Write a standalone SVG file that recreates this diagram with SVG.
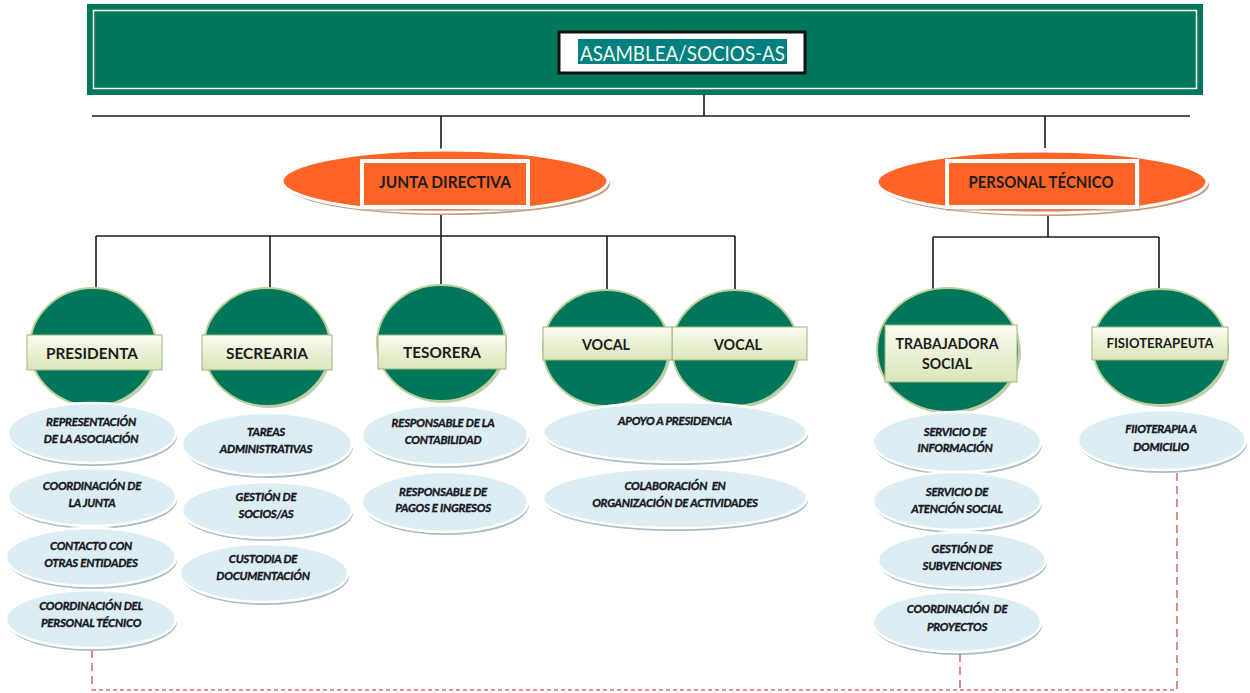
<svg xmlns="http://www.w3.org/2000/svg" width="1250" height="693" viewBox="0 0 1250 693">
<defs>
<linearGradient id="band" x1="0" y1="0" x2="0" y2="1">
<stop offset="0" stop-color="#FBFCF2"/>
<stop offset="1" stop-color="#D9E6B8"/>
</linearGradient>
<style>
.ln{stroke:#1a1a1a;stroke-width:1.6;fill:none}
.dash{stroke:#DB6E6E;stroke-width:1.6;fill:none;stroke-dasharray:8 5}
.dashh{stroke:#DB6E6E;stroke-width:1.6;fill:none;stroke-dasharray:4 3}
.circ{fill:#00765A;stroke:#BBD09A;stroke-width:2}
.csh{fill:#4C6E40;opacity:.35}
.band{fill:url(#band);stroke:#9DB67C;stroke-width:1}
.hd{font-family:Lato,"Liberation Sans",sans-serif;font-weight:bold;fill:#1c1c1c;text-anchor:middle}
.el{fill:#DCEDF3;stroke:#FFFFFF;stroke-width:2.5}
.esh{fill:#8EA6AD;opacity:.75}
.et{font-family:Lato,"Liberation Sans",sans-serif;font-weight:bold;font-style:italic;font-size:11.5px;letter-spacing:-0.25px;fill:#161622;stroke:#161622;stroke-width:0.35px;text-anchor:middle}
.oe{fill:#FF6427;stroke:#FFFFFF;stroke-width:3}
.osh{fill:#C59A78}
.orr{fill:#FF6427;stroke:#FFFFFF;stroke-width:4}
</style>
</defs>

<g id="connectors">
<line class="ln" x1="704" y1="88" x2="704" y2="116"/>
<line class="ln" x1="92" y1="116" x2="1190" y2="116"/>
<line class="ln" x1="441" y1="116" x2="441" y2="150"/>
<line class="ln" x1="1045" y1="116" x2="1045" y2="148"/>
<line class="ln" x1="441" y1="211" x2="441" y2="236"/>
<line class="ln" x1="96" y1="236" x2="735" y2="236"/>
<line class="ln" x1="96" y1="236" x2="96" y2="292"/>
<line class="ln" x1="270" y1="236" x2="270" y2="292"/>
<line class="ln" x1="441" y1="236" x2="441" y2="288"/>
<line class="ln" x1="607" y1="236" x2="607" y2="292"/>
<line class="ln" x1="735" y1="236" x2="735" y2="292"/>
<line class="ln" x1="1048" y1="214" x2="1048" y2="237"/>
<line class="ln" x1="933" y1="237" x2="1159" y2="237"/>
<line class="ln" x1="933" y1="237" x2="933" y2="290"/>
<line class="ln" x1="1159" y1="237" x2="1159" y2="290"/>
<line class="dash" x1="92" y1="650" x2="92" y2="690"/>
<line class="dash" x1="960" y1="654" x2="960" y2="690"/>
<line class="dash" x1="1177" y1="473" x2="1177" y2="690"/>
<line class="dashh" x1="92" y1="690" x2="1177" y2="690"/>
</g>

<g id="asamblea">
<rect x="87" y="4" width="1116" height="91" fill="#00765A"/>
<rect x="93.5" y="10.5" width="1103" height="78" fill="none" stroke="#FFFFFF" stroke-width="1.5"/>
<rect x="559" y="32" width="246" height="41" fill="#FFFFFF" stroke="#111111" stroke-width="3"/>
<rect x="578" y="39" width="209" height="25" fill="#008080"/>
<text x="682.5" y="61" class="hd" font-size="21" style="fill:#F4F7EC;font-weight:normal" textLength="205" lengthAdjust="spacingAndGlyphs">ASAMBLEA/SOCIOS-AS</text>
</g>

<g id="junta-directiva">
<ellipse cx="447" cy="184" rx="163" ry="31" class="osh"/>
<ellipse cx="445" cy="181" rx="163" ry="31" class="oe"/>
<rect x="361" y="163" width="169" height="48" fill="#B8A090" opacity=".6"/>
<rect x="362" y="161" width="166" height="46" class="orr"/>
<text x="445" y="188" class="hd" font-size="17" textLength="132" lengthAdjust="spacingAndGlyphs">JUNTA DIRECTIVA</text>
</g>

<g id="personal-tecnico">
<ellipse cx="1044" cy="185" rx="165" ry="31" class="osh"/>
<ellipse cx="1042" cy="182" rx="165" ry="31" class="oe"/>
<rect x="946" y="163" width="194" height="48" fill="#B8A090" opacity=".6"/>
<rect x="947" y="161" width="190" height="46" class="orr"/>
<text x="1041" y="188" class="hd" font-size="17" textLength="145" lengthAdjust="spacingAndGlyphs">PERSONAL TÉCNICO</text>
</g>

<g id="presidenta">
<ellipse cx="95" cy="349" rx="63" ry="59" class="csh"/>
<ellipse cx="93" cy="347" rx="63" ry="59" class="circ"/>
<rect x="27" y="335" width="135" height="35" class="band"/>
<text x="92" y="359" class="hd" font-size="16" textLength="92" lengthAdjust="spacingAndGlyphs">PRESIDENTA</text>
</g>

<g id="secretaria">
<ellipse cx="269" cy="349" rx="63" ry="59" class="csh"/>
<ellipse cx="267" cy="347" rx="63" ry="59" class="circ"/>
<rect x="202" y="335" width="130" height="35" class="band"/>
<text x="267" y="359" class="hd" font-size="16" textLength="82" lengthAdjust="spacingAndGlyphs">SECREARIA</text>
</g>

<g id="tesorera">
<ellipse cx="443" cy="345" rx="64" ry="58" class="csh"/>
<ellipse cx="441" cy="343" rx="64" ry="58" class="circ"/>
<rect x="378" y="335" width="128" height="34" class="band"/>
<text x="442" y="358" class="hd" font-size="16" textLength="78" lengthAdjust="spacingAndGlyphs">TESORERA</text>
</g>

<g id="vocal-1">
<ellipse cx="608" cy="350" rx="63" ry="58" class="csh"/>
<ellipse cx="606" cy="348" rx="63" ry="58" class="circ"/>
</g>

<g id="vocal-2">
<ellipse cx="737" cy="350" rx="63" ry="58" class="csh"/>
<ellipse cx="735" cy="348" rx="63" ry="58" class="circ"/>
<rect x="672" y="327" width="135" height="33" class="band"/>
<text x="738" y="350" class="hd" font-size="16" textLength="48" lengthAdjust="spacingAndGlyphs">VOCAL</text>
</g>

<g id="vocal-1-label">
<rect x="543" y="327" width="129" height="33" class="band"/>
<text x="606" y="350" class="hd" font-size="16" textLength="48" lengthAdjust="spacingAndGlyphs">VOCAL</text>
</g>

<g id="trabajadora-social">
<ellipse cx="950" cy="352" rx="71" ry="62" class="csh"/>
<ellipse cx="948" cy="350" rx="71" ry="62" class="circ"/>
<rect x="885" y="325" width="132" height="57" class="band"/>
<text x="947" y="349" class="hd" font-size="15" textLength="103" lengthAdjust="spacingAndGlyphs">TRABAJADORA</text>
<text x="947" y="369" class="hd" font-size="15" textLength="50" lengthAdjust="spacingAndGlyphs">SOCIAL</text>
</g>

<g id="fisioterapeuta">
<ellipse cx="1162" cy="349" rx="67" ry="58" class="csh"/>
<ellipse cx="1160" cy="347" rx="67" ry="58" class="circ"/>
<rect x="1092" y="327" width="136" height="33" class="band"/>
<text x="1160" y="348" class="hd" font-size="13" textLength="107" lengthAdjust="spacingAndGlyphs">FISIOTERAPEUTA</text>
</g>

<g id="presidenta-tareas">
<ellipse cx="93" cy="436" rx="84" ry="30" class="esh"/>
<ellipse cx="92" cy="433" rx="84" ry="30" class="el"/>
<text x="91" y="426" class="et">REPRESENTACIÓN</text>
<text x="91" y="443" class="et">DE LA ASOCIACIÓN</text>
<ellipse cx="93" cy="500" rx="84" ry="29" class="esh"/>
<ellipse cx="92" cy="497" rx="84" ry="29" class="el"/>
<text x="92" y="490" class="et">COORDINACIÓN DE</text>
<text x="92" y="507" class="et">LA JUNTA</text>
<ellipse cx="92" cy="560" rx="85" ry="29" class="esh"/>
<ellipse cx="91" cy="557" rx="85" ry="29" class="el"/>
<text x="91" y="550" class="et">CONTACTO CON</text>
<text x="91" y="567" class="et">OTRAS ENTIDADES</text>
<ellipse cx="92" cy="622" rx="85" ry="29" class="esh"/>
<ellipse cx="91" cy="619" rx="85" ry="29" class="el"/>
<text x="91" y="610" class="et">COORDINACIÓN DEL</text>
<text x="91" y="627" class="et">PERSONAL TÉCNICO</text>
</g>

<g id="secretaria-tareas">
<ellipse cx="268" cy="447" rx="85" ry="31" class="esh"/>
<ellipse cx="267" cy="444" rx="85" ry="31" class="el"/>
<text x="266" y="436" class="et">TAREAS</text>
<text x="266" y="453" class="et">ADMINISTRATIVAS</text>
<ellipse cx="268" cy="513" rx="85" ry="28" class="esh"/>
<ellipse cx="267" cy="510" rx="85" ry="28" class="el"/>
<text x="266" y="501" class="et">GESTIÓN DE</text>
<text x="266" y="518" class="et">SOCIOS/AS</text>
<ellipse cx="265" cy="576" rx="84" ry="29" class="esh"/>
<ellipse cx="264" cy="573" rx="84" ry="29" class="el"/>
<text x="263" y="563" class="et">CUSTODIA DE</text>
<text x="263" y="580" class="et">DOCUMENTACIÓN</text>
</g>

<g id="tesorera-tareas">
<ellipse cx="446" cy="438" rx="83" ry="30" class="esh"/>
<ellipse cx="445" cy="435" rx="83" ry="30" class="el"/>
<text x="443" y="427" class="et">RESPONSABLE DE LA</text>
<text x="443" y="444" class="et">CONTABILIDAD</text>
<ellipse cx="446" cy="505" rx="83" ry="30" class="esh"/>
<ellipse cx="445" cy="502" rx="83" ry="30" class="el"/>
<text x="443" y="496" class="et">RESPONSABLE DE</text>
<text x="443" y="512" class="et">PAGOS E INGRESOS</text>
</g>

<g id="vocal-tareas">
<ellipse cx="676" cy="435" rx="132" ry="30" class="esh"/>
<ellipse cx="675" cy="432" rx="132" ry="30" class="el"/>
<text x="675" y="425" class="et">APOYO A PRESIDENCIA</text>
<ellipse cx="676" cy="501" rx="132" ry="30" class="esh"/>
<ellipse cx="675" cy="498" rx="132" ry="30" class="el"/>
<text x="675" y="490" class="et" xml:space="preserve">COLABORACIÓN  EN</text>
<text x="675" y="507" class="et">ORGANIZACIÓN DE ACTIVIDADES</text>
</g>

<g id="trabajadora-tareas">
<ellipse cx="958" cy="445" rx="84" ry="30" class="esh"/>
<ellipse cx="957" cy="442" rx="84" ry="30" class="el"/>
<text x="955" y="436" class="et">SERVICIO DE</text>
<text x="955" y="452" class="et">INFORMACIÓN</text>
<ellipse cx="958" cy="504" rx="84" ry="29" class="esh"/>
<ellipse cx="957" cy="501" rx="84" ry="29" class="el"/>
<text x="957" y="496" class="et">SERVICIO DE</text>
<text x="957" y="513" class="et">ATENCIÓN SOCIAL</text>
<ellipse cx="963" cy="563" rx="84" ry="28" class="esh"/>
<ellipse cx="962" cy="560" rx="84" ry="28" class="el"/>
<text x="962" y="553" class="et">GESTIÓN DE</text>
<text x="962" y="570" class="et">SUBVENCIONES</text>
<ellipse cx="958" cy="625" rx="84" ry="30" class="esh"/>
<ellipse cx="957" cy="622" rx="84" ry="30" class="el"/>
<text x="957" y="613" class="et" xml:space="preserve">COORDINACIÓN  DE</text>
<text x="957" y="631" class="et">PROYECTOS</text>
</g>

<g id="fisioterapeuta-tareas">
<ellipse cx="1163" cy="443" rx="84" ry="30" class="esh"/>
<ellipse cx="1162" cy="440" rx="84" ry="30" class="el"/>
<text x="1161" y="433" class="et">FIIOTERAPIA A</text>
<text x="1161" y="451" class="et">DOMICILIO</text>
</g>
</svg>
